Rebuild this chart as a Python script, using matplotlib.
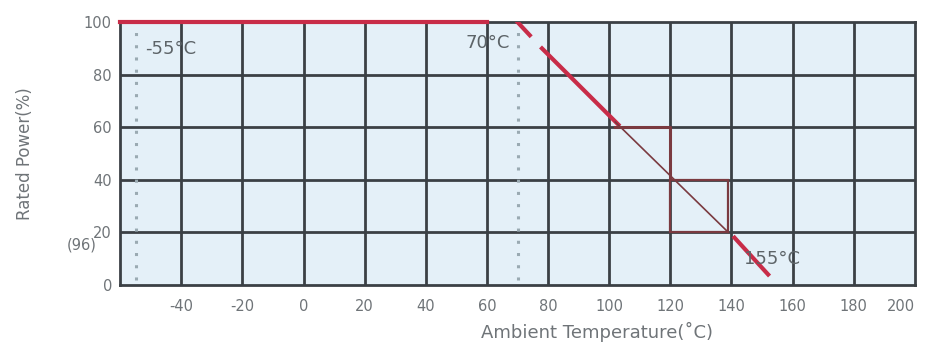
import matplotlib.pyplot as plt
from matplotlib.patches import Rectangle

# derating curve pieces (temperature degC, rated power %)
flat_temp = [-60, 60]
flat_power = [100, 100]
dash_temp = [70, 74]
dash_power = [100, 95]
slope_temp = [78, 103]
slope_power = [90, 61]
thin_temp = [102, 139]
thin_power = [62, 20]
tail_temp = [141, 152]
tail_power = [18, 4]

# construction marks
bracket_temp = [102, 120, 120]
bracket_power = [60, 60, 41]
box_temp = (120, 139)
box_power = (20, 40)

# dotted limits
limit_temps = [-55, 70]

x_ticks = [-40, -20, 0, 20, 40, 60, 80, 100, 120, 140, 160, 180, 200]
x_labels = ["-40", "-20", "0", "20", "40", "60", "80", "100", "120", "140", "160", "180", "200"]
y_ticks = [0, 20, 40, 60, 80, 100]

red = "#c82c48"
maroon = "#7a3a40"
grid = "#3b4045"
text_gray = "#6f7478"

fig = plt.figure(figsize=(9.25, 3.51), dpi=100)
ax = fig.add_axes([0.130, 0.188, 0.859, 0.749])
ax.set_facecolor("#e4f0f8")

ax.set_xlim(-60, 200)
ax.set_ylim(0, 100)

for t in x_ticks[:-1]:
    ax.axvline(t, color=grid, linewidth=2.0, zorder=1)
for p in y_ticks[1:-1]:
    ax.axhline(p, color=grid, linewidth=2.0, zorder=1)

for t in limit_temps:
    ax.plot([t, t], [2, 98], color="#9aaab2", linestyle=(0, (1, 3)),
            linewidth=2.2, zorder=2)

ax.plot(flat_temp, flat_power, color=red, linewidth=3, zorder=4, clip_on=False)
ax.plot(dash_temp, dash_power, color=red, linewidth=3, zorder=4)
ax.plot(slope_temp, slope_power, color=red, linewidth=3, zorder=4)
ax.plot(thin_temp, thin_power, color=maroon, linewidth=1.2, zorder=4)
ax.plot(tail_temp, tail_power, color=red, linewidth=3, zorder=4)
ax.plot(bracket_temp, bracket_power, color=maroon, linewidth=2.2, zorder=4)
ax.add_patch(Rectangle((box_temp[0], box_power[0]), box_temp[1] - box_temp[0],
                       box_power[1] - box_power[0], fill=False,
                       edgecolor=maroon, linewidth=1.6, zorder=4))

ax.text(-52, 88, "-55\u00b0C", fontsize=13, color="#5d6468", zorder=5)
ax.text(53, 90, "70\u00b0C", fontsize=13, color="#5d6468", zorder=5)
ax.text(144, 8, "155\u00b0C", fontsize=13, color="#5d6468", zorder=5)

for side in ["left", "top", "right", "bottom"]:
    ax.spines[side].set_color(grid)
    ax.spines[side].set_linewidth(2.0)

ax.set_xticks(x_ticks)
ax.set_xticklabels(x_labels)
ax.get_xticklabels()[-1].set_horizontalalignment("right")
ax.set_yticks(y_ticks)
ax.tick_params(axis="both", length=0, labelsize=10.5, labelcolor=text_gray)
ax.tick_params(axis="x", pad=10)
ax.tick_params(axis="y", pad=6)

ax.set_xlabel("Ambient Temperature(\u02daC)", fontsize=13, color=text_gray,
              x=0.6, labelpad=6)
ax.set_ylabel("Rated Power(%)", fontsize=12, color=text_gray, labelpad=36)
fig.text(0.072, 0.29, "(96)", fontsize=10.5, color=text_gray)

fig.savefig("out.png", dpi=100)
